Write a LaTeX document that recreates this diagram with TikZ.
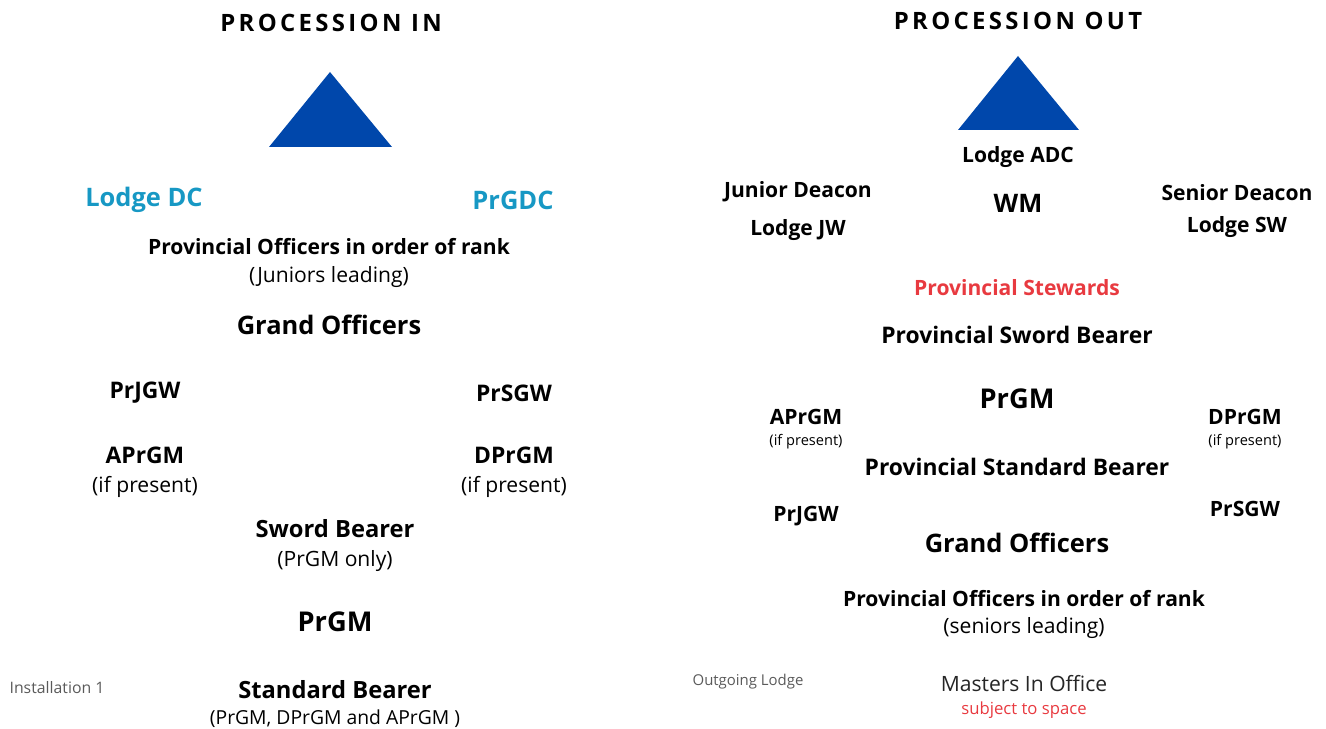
\documentclass[tikz,border=0pt]{standalone}
\usepackage{fontspec}
\setmainfont{Open Sans}
\definecolor{triblue}{RGB}{0,71,171}
\definecolor{dcblue}{RGB}{23,152,196}
\definecolor{stewred}{RGB}{232,58,64}
\definecolor{notegrey}{RGB}{90,90,90}
\newcommand{\fsz}[1]{\fontsize{#1}{#1}\selectfont}

\begin{document}
\begin{tikzpicture}[x=0.02cm,y=-0.02cm,every node/.style={inner sep=0pt},
  heading/.style={font=\bfseries\fsz{13.6}\addfontfeature{LetterSpace=14}},
  rank/.style={font=\bfseries\fsz{#1}},
  rank/.default=12,
  remark/.style={font=\fsz{#1}},
  remark/.default=12,
  marker/.style={font=\fsz{#1},text=notegrey},
  wedge/.style={fill=triblue}]
\useasboundingbox (0,0) rectangle (1326,729);

% procession in
\node[heading] (inT) at (331,23) {PROCESSION IN};
\fill[wedge] (330,72) -- (392,147) -- (269,147) -- cycle;
\node[rank=14.5,text=dcblue] (inDC) at (144,200) {Lodge DC};
\node[rank=14.5,text=dcblue] (inGDC) at (513,200) {PrGDC};
\node[rank] (inPO) at (329,247) {Provincial Officers in order of rank};
\node[remark] (inPOn) at (329,277) {(Juniors leading)};
\node[rank=14.5] (inGO) at (329,325) {Grand Officers};
\node[rank=13] (inJGW) at (145,393) {PrJGW};
\node[rank=13] (inSGW) at (514,393) {PrSGW};
\node[rank=13] (inA) at (145,455) {APrGM};
\node[remark] (inAn) at (145,487) {(if present)};
\node[rank=13] (inD) at (514,455) {DPrGM};
\node[remark] (inDn) at (514,487) {(if present)};
\node[rank=13.5] (inSB) at (335,529) {Sword Bearer};
\node[remark] (inSBn) at (335,561) {(PrGM only)};
\node[rank=15.5] (inGM) at (335,622) {PrGM};
\node[marker=9] (inL) at (57,688) {Installation 1};
\node[rank=13.5] (inStB) at (335,690) {Standard Bearer};
\node[remark=11] (inStBn) at (335,719) {(PrGM, DPrGM and APrGM )};

% procession out
\node[heading] (outT) at (1018,21) {PROCESSION OUT};
\fill[wedge] (1018,56) -- (1079,130) -- (958,130) -- cycle;
\node[rank] (outADC) at (1018,157) {Lodge ADC};
\node[rank] (outJD) at (798,192) {Junior Deacon};
\node[rank] (outJW) at (798,230) {Lodge JW};
\node[rank=14.5] (outWM) at (1018,203) {WM};
\node[rank] (outSD) at (1237,193) {Senior Deacon};
\node[rank] (outSW) at (1237,227) {Lodge SW};
\node[rank,text=stewred] (outPS) at (1017,288) {Provincial Stewards};
\node[rank=13] (outPSB) at (1017,335) {Provincial Sword Bearer};
\node[rank=15.5] (outGM) at (1017,399) {PrGM};
\node[rank] (outA) at (806,417) {APrGM};
\node[remark=8.3] (outAn) at (806,442) {(if present)};
\node[rank] (outD) at (1245,417) {DPrGM};
\node[remark=8.3] (outDn) at (1245,442) {(if present)};
\node[rank=13] (outStB) at (1017,467) {Provincial Standard Bearer};
\node[rank] (outJGW) at (806,516) {PrJGW};
\node[rank] (outSGW) at (1245,509) {PrSGW};
\node[rank=14.5] (outGO) at (1017,543) {Grand Officers};
\node[rank] (outPO) at (1024,599) {Provincial Officers in order of rank};
\node[remark] (outPOn) at (1024,628) {(seniors leading)};
\node[marker=8.5] (outL) at (748,682) {Outgoing Lodge};
\node[remark=12,text=black!85] (outMO) at (1024,684) {Masters In Office};
\node[remark=9.5,text=stewred] (outMOn) at (1024,710) {subject to space};
\end{tikzpicture}
\end{document}
